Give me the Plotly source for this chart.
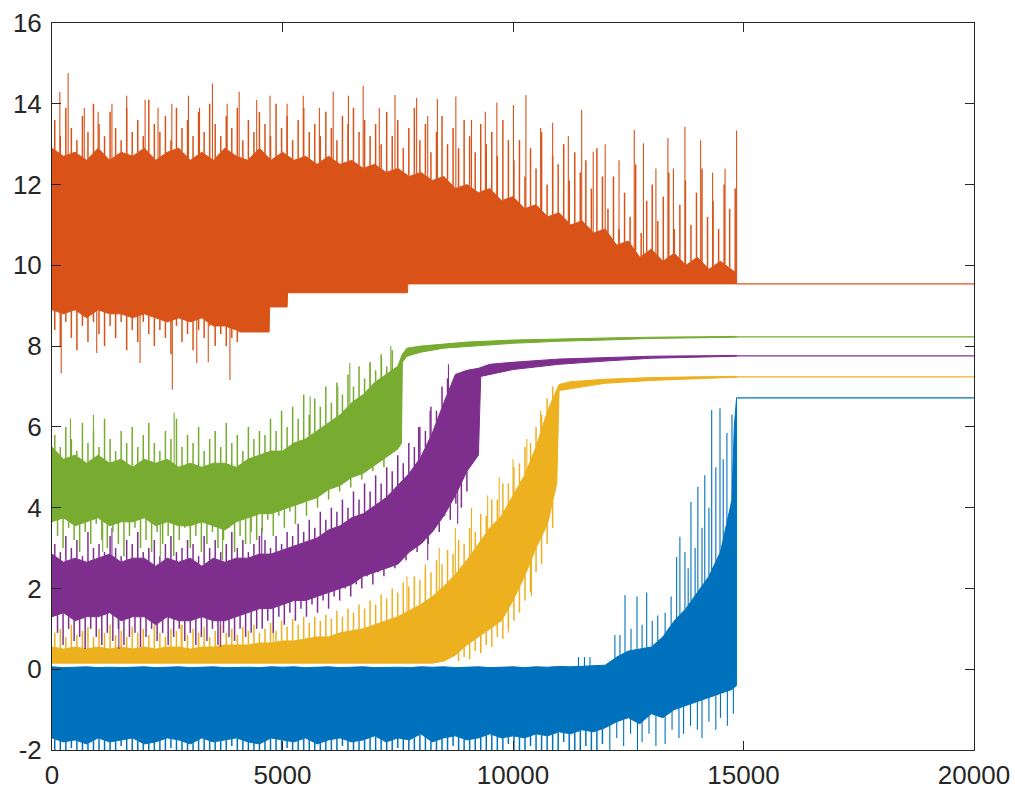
import numpy as np
import plotly.graph_objects as go

# ---------------- data ----------------
GRID = list(range(0, 14751, 250)) + [14850]          # sample positions of the band edges
TAIL_X = [14850, 20000]

# ---- Orange ----
or_top_x = GRID
or_top = [12.9, 12.7, 12.8, 12.6, 12.9, 12.6, 12.8, 12.7, 12.9, 12.6, 12.8, 12.9, 12.6, 12.8, 12.6,
          12.9, 12.7, 12.6, 12.9, 12.6, 12.8, 12.6, 12.7, 12.5, 12.7,
          12.5, 12.6, 12.4, 12.5, 12.3, 12.4, 12.2, 12.3,
          12.1, 12.2, 11.9, 12.0, 11.8, 11.9, 11.6, 11.7, 11.4,
          11.5, 11.2, 11.3, 11.0, 11.1, 10.8, 10.9,
          10.5, 10.6, 10.2, 10.4, 10.1, 10.3, 10.0, 10.2, 9.9, 10.1, 9.9, 9.8]
or_bot_x = [0, 250, 500, 750, 1000, 1250, 1500, 1750, 2000, 2250, 2500, 2750, 3000, 3250, 3500, 3750, 4000,
            4080, 4710, 4720, 5100, 5110, 7710, 7720, 14850]
or_bot = [8.9, 8.8, 8.9, 8.7, 8.9, 8.8, 8.8, 8.7, 8.8, 8.7, 8.6, 8.7, 8.6, 8.7, 8.5, 8.5, 8.4,
          8.35, 8.35, 8.97, 8.97, 9.32, 9.32, 9.54, 9.54]
# dense fringe above the orange core (every 120 from x=60)
or_fr_up_x = list(range(60, 14850, 120))
or_fr_up = [13.6, 13.2, 13.9, 13.4, 13.1, 13.7, 13.3, 14.0, 13.5, 13.2,
            13.8, 13.4, 13.1, 13.9, 13.3, 13.6, 13.2, 14.1, 13.5, 13.3,
            13.7, 13.1, 13.9, 13.4, 13.6, 13.2, 13.8, 13.3, 14.0, 13.5,
            13.2, 13.7, 13.4, 13.9, 13.1, 13.6, 13.3, 13.8, 13.5, 13.2,
            14.0, 13.4, 13.7, 13.1, 13.6, 13.9, 13.3, 13.5, 13.2, 13.8,
            13.4, 13.1, 13.7, 13.5, 13.9, 13.3, 13.6, 13.2,
            13.5, 13.0, 13.8, 13.2, 13.6, 12.9, 13.4, 13.9, 13.1, 13.5,
            12.8, 13.3, 13.7, 13.0, 13.4, 12.9, 13.6, 13.2, 12.8, 13.5,
            13.0, 13.3, 12.7, 13.6, 13.1,
            12.6, 13.1, 12.2, 12.9, 12.4, 13.3, 12.0, 12.7, 12.5, 13.0,
            12.1, 12.8, 12.3, 12.6, 11.9, 12.9, 12.2,
            11.4, 12.2, 10.9, 11.8, 11.2, 12.5, 10.8, 11.6, 12.0, 11.1,
            11.7, 12.3, 10.9, 11.5, 12.1, 11.0, 11.8, 12.4, 11.2, 11.6,
            10.9, 12.0, 11.4, 11.9]
or_fr_dn_x = list(range(60, 4080, 120))
or_fr_dn = [8.4, 8.0, 8.6, 8.2, 7.9, 8.5, 8.1, 8.6, 8.3, 8.0,
            8.5, 8.2, 8.6, 7.9, 8.4, 8.1, 8.6, 8.3, 8.0, 8.4,
            8.2, 7.8, 8.5, 8.1, 8.3, 7.9, 8.4, 8.2, 8.5, 8.0,
            8.3, 8.0, 8.2, 8.1]
or_up_x = [170, 350, 700, 1000, 1300, 1620, 2020, 2300, 2600, 2960, 3200, 3480, 3800, 4060, 4440, 4730,
           5100, 5450, 5800, 6100, 6430, 6750, 7100, 7440, 7910, 8150, 8360, 8760, 9100, 9400, 9650,
           10010, 10280, 10600, 10860, 11200, 11490, 11740, 12000, 12300, 12630, 12830,
           13100, 13360, 13480, 13730, 14070, 14330, 14600, 14850]
or_up_y = [14.3, 14.76, 13.9, 13.8, 14.0, 14.2, 14.1, 13.9, 14.0, 14.2, 13.9, 14.5, 14.0, 14.3, 14.1, 14.2,
           14.0, 14.2, 13.9, 14.3, 14.2, 14.44, 13.9, 14.22, 14.14, 13.7, 14.12, 14.18, 13.6, 13.8, 14.03,
           13.97, 14.22, 13.4, 13.53, 13.2, 13.85, 12.81, 13.0, 12.6, 13.35, 13.02,
           12.4, 13.15, 12.4, 13.43, 13.1, 12.3, 12.4, 13.34]
or_dn_x = [200, 970, 1910, 2610, 3140, 3390, 3860]
or_dn_y = [7.33, 7.83, 7.58, 6.92, 7.58, 7.6, 7.16]
or_tail = [9.54, 9.54]

# ---- Green ----
gr_top_x = list(range(0, 7501, 250)) + [7600, 7700, 8000, 8500, 9000, 10000, 11000, 12000, 13000, 14000, 14850]
gr_top = [5.5, 5.2, 5.3, 5.1, 5.3, 5.1, 5.2, 5.0, 5.2, 5.1, 5.2, 5.0, 5.1, 5.0, 5.1, 5.1, 5.0, 5.2, 5.3, 5.4,
          5.4, 5.6, 5.7, 5.9, 6.1, 6.3, 6.6, 6.8, 7.1, 7.3, 7.5,
          7.8, 7.95, 8.0, 8.05, 8.1, 8.15, 8.18, 8.2, 8.22, 8.23, 8.24]
gr_bot_x = list(range(0, 7501, 250)) + [7580, 7600, 7700, 8000, 8500, 9000, 10000, 11000, 12000, 13000, 14000, 14850]
gr_bot = [3.65, 3.75, 3.55, 3.65, 3.75, 3.55, 3.65, 3.65, 3.75, 3.55, 3.65, 3.55, 3.55, 3.65, 3.55, 3.45,
          3.65, 3.75, 3.85, 3.85, 3.95, 4.05, 4.15, 4.25, 4.45, 4.55, 4.75, 4.85, 5.05, 5.25, 5.45,
          5.6, 7.6, 7.75, 7.85, 7.95, 8.0, 8.07, 8.12, 8.15, 8.19, 8.21, 8.22]
gr_fr_up_x = list(range(60, 7500, 120))
gr_fr_up = [5.8, 5.5, 6.0, 5.7, 5.4, 6.1, 5.6, 5.9, 5.5, 6.2,
            5.7, 5.4, 5.9, 5.6, 6.0, 5.5, 5.8, 6.1, 5.6, 5.4,
            5.9, 5.7, 6.2, 5.5, 5.8, 5.6, 6.0, 5.4, 5.7, 5.9,
            5.5, 6.1, 5.6, 5.8, 5.4, 6.0, 5.7, 5.9,
            5.8, 6.2, 5.9, 6.4, 6.0, 6.5, 6.2, 6.8, 6.3, 6.7,
            6.5, 7.0, 6.6, 7.1, 6.8, 7.3, 7.0, 7.5, 7.2, 7.6,
            7.4, 7.8, 7.5, 7.9]
gr_fr_dn_x = list(range(120, 7400, 120))
gr_fr_dn = [3.3, 3.0, 3.5, 3.2, 2.9, 3.4, 3.1, 3.6, 3.2, 3.0,
            3.4, 3.1, 2.8, 3.3, 3.5, 3.0, 3.2, 2.9, 3.4, 3.1,
            3.3, 2.8, 3.2, 3.5, 3.0, 3.3, 2.9, 3.1, 3.4, 3.0,
            3.2, 3.5, 2.9, 3.3, 3.1, 3.4, 3.2,
            3.4, 3.7, 3.3, 3.8, 3.5, 3.9, 3.6, 4.1, 3.8, 4.3,
            4.0, 4.4, 4.2, 4.6, 4.4, 4.8, 4.5, 5.0, 4.7, 5.1,
            4.9, 5.3, 5.0, 5.4]
gr_up_x = [400, 900, 2650, 5600, 6200, 6460, 6900, 7150, 7350]
gr_up_y = [6.2, 6.3, 6.35, 6.75, 7.0, 7.58, 7.6, 7.73, 8.0]
gr_dn_x = [1100, 2350, 3700, 4300]
gr_dn_y = [2.9, 2.8, 2.7, 3.1]
gr_tail = [8.23, 8.23]

# ---- Purple ----
pu_top_x = list(range(0, 9251, 250)) + [9500, 10000, 11000, 12000, 13000, 14000, 14850]
pu_top = [2.85, 2.65, 2.75, 2.65, 2.75, 2.85, 2.65, 2.75, 2.75, 2.55,
          2.75, 2.65, 2.75, 2.55, 2.75, 2.65, 2.75, 2.75, 2.85, 2.85,
          2.95, 3.05, 3.15, 3.25, 3.45, 3.55, 3.75, 3.85, 4.05, 4.25,
          4.55, 4.85, 5.25, 5.85, 6.6, 7.3, 7.4, 7.45,
          7.55, 7.6, 7.68, 7.72, 7.75, 7.76, 7.77]
pu_bot_x = list(range(0, 9251, 250)) + [9300, 9500, 10000, 11000, 12000, 13000, 14000, 14850]
pu_bot = [1.3, 1.4, 1.2, 1.3, 1.3, 1.4, 1.2, 1.3, 1.3, 1.1,
          1.3, 1.2, 1.2, 1.3, 1.2, 1.2, 1.3, 1.4, 1.5, 1.5,
          1.6, 1.7, 1.7, 1.8, 1.9, 2.0, 2.1, 2.3, 2.4, 2.5,
          2.6, 2.9, 3.1, 3.4, 3.8, 4.3, 4.9, 5.3,
          7.25, 7.3, 7.42, 7.55, 7.63, 7.7, 7.73, 7.75]
pu_fr_up_x = list(range(60, 8700, 120))
pu_fr_up = [3.1, 2.9, 3.3, 3.0, 3.2, 2.8, 3.4, 3.0, 3.1, 2.9,
            3.3, 3.0, 2.8, 3.2, 3.1, 3.4, 2.9, 3.0, 3.2, 2.8,
            3.1, 3.3, 2.9, 3.0, 3.2, 3.1, 2.8, 3.3, 3.0, 3.2,
            2.9, 3.1, 3.4, 3.0, 3.2, 2.9, 3.1, 3.3,
            3.2, 3.0, 3.3, 3.1, 3.4, 3.3, 3.6, 3.4, 3.7, 3.5,
            3.9, 3.7, 4.0, 3.9, 4.2, 4.0, 4.4, 4.2, 4.6, 4.4,
            4.8, 4.6, 5.0, 4.9, 5.3, 5.1, 5.6, 5.5, 6.0, 5.9,
            6.5, 6.4, 7.0, 7.2]
pu_fr_dn_x = list(range(120, 9100, 120))
pu_fr_dn = [0.9, 0.6, 1.0, 0.7, 0.8, 0.5, 1.0, 0.8, 0.6, 0.9,
            0.7, 1.0, 0.6, 0.8, 0.9, 0.55, 0.8, 1.0, 0.7, 0.9,
            0.6, 0.8, 1.0, 0.7, 0.9, 0.6, 0.8, 0.7, 1.0, 0.6,
            0.9, 0.8, 0.7, 1.0, 0.8, 0.9, 1.0,
            1.0, 1.2, 0.9, 1.3, 1.1, 1.4, 1.2, 1.5, 1.3, 1.6,
            1.4, 1.7, 1.5, 1.8, 1.7, 2.0, 1.8, 2.1, 2.0, 2.3,
            2.1, 2.4, 2.3, 2.6, 2.5, 2.8, 2.7, 3.0, 2.9, 3.2,
            3.1, 3.5, 3.4, 3.8, 3.7, 4.1, 4.0, 4.4]
pu_up_x = [1300, 4550, 7950, 8200, 8600]
pu_up_y = [3.5, 3.5, 6.0, 6.4, 7.55]
pu_dn_x = [1450, 3650, 8150, 8800]
pu_dn_y = [0.5, 0.55, 2.7, 3.6]
pu_tail = [7.76, 7.76]

# ---- Yellow ----
ye_top_x = list(range(0, 11001, 250)) + [11250, 12000, 13000, 14000, 14850]
ye_top = [0.55, 0.5, 0.55, 0.5, 0.55, 0.5, 0.55, 0.5, 0.55, 0.5,
          0.55, 0.55, 0.5, 0.55, 0.55, 0.6, 0.6, 0.6, 0.65, 0.65,
          0.7, 0.7, 0.75, 0.8, 0.8, 0.9, 0.95, 1.0, 1.1, 1.2,
          1.3, 1.45, 1.6, 1.8, 2.05, 2.35, 2.7, 3.1, 3.5, 3.8,
          4.3, 4.8, 5.5, 6.4, 7.05,
          7.12, 7.18, 7.22, 7.24, 7.25]
ye_bot_x = list(range(0, 10751, 250)) + [10950, 11000, 11250, 12000, 13000, 14000, 14850]
ye_bot = [0.15, 0.15, 0.15, 0.15, 0.15, 0.15, 0.15, 0.15, 0.15, 0.15,
          0.15, 0.15, 0.15, 0.15, 0.15, 0.15, 0.15, 0.15, 0.15, 0.15,
          0.15, 0.15, 0.15, 0.15, 0.15, 0.15, 0.15, 0.15, 0.15, 0.15,
          0.15, 0.15, 0.15, 0.15,
          0.2, 0.35, 0.6, 0.8, 1.0, 1.2, 1.7, 2.3, 3.0, 3.6,
          4.6, 6.9, 6.95, 7.08, 7.15, 7.2, 7.23]
ye_fr_up_x = list(range(60, 10900, 120))
ye_fr_up = [0.9, 1.0, 0.8, 1.1, 0.85, 0.95, 1.05, 0.8, 1.0, 0.9,
            1.1, 0.85, 0.95, 0.8, 1.05, 0.9, 1.0, 0.85, 1.1, 0.9,
            0.8, 1.0, 0.95, 1.1, 0.85, 1.0, 0.9, 1.05, 0.8, 0.95,
            1.1, 0.9, 1.0, 0.85, 1.05, 0.95, 1.1, 0.9,
            1.0, 1.15, 0.95, 1.2, 1.05, 1.25, 1.1, 1.3, 1.15, 1.3,
            1.2, 1.35, 1.25, 1.45, 1.3, 1.5, 1.4, 1.6, 1.5, 1.7,
            1.6, 1.85, 1.75, 2.0, 1.9, 2.15, 2.05, 2.3, 2.2, 2.5,
            2.4, 2.7, 2.6, 2.95, 2.85, 3.2, 3.1, 3.5, 3.4, 3.85,
            3.8, 4.2, 4.2, 4.6, 4.6, 5.0, 5.1, 5.5, 5.6, 6.0,
            6.3, 6.7, 7.0]
ye_fr_dn_x = list(range(8820, 10900, 120))
ye_fr_dn = [0.2, 0.3, 0.25, 0.45, 0.4, 0.6, 0.55, 0.8, 0.75, 1.0,
            1.2, 1.4, 1.7, 1.9, 2.4, 2.6, 3.1, 3.5]
ye_up_x = [2800, 4800, 7700, 8100, 8400, 8750, 9100, 9450, 9700, 10000, 10300, 10600]
ye_up_y = [1.1, 1.2, 2.3, 2.6, 3.0, 3.5, 4.0, 4.3, 4.76, 5.2, 5.7, 6.4]
ye_dn_x = [9300, 9900, 10400]
ye_dn_y = [0.4, 0.9, 1.8]
ye_tail = [7.24, 7.24]

# ---- Blue ----
bl_top_x = list(range(0, 14751, 250)) + [14800, 14850]
bl_top = [0.06, 0.04, 0.05, 0.06, 0.04, 0.05, 0.04, 0.05, 0.06, 0.04,
          0.05, 0.06, 0.04, 0.05, 0.06, 0.04, 0.05, 0.05, 0.04, 0.06,
          0.05, 0.06, 0.04, 0.05, 0.06, 0.04, 0.05, 0.06, 0.04, 0.05,
          0.05, 0.04, 0.06, 0.05, 0.06, 0.04, 0.05, 0.06, 0.04, 0.05,
          0.06, 0.04, 0.06, 0.05, 0.07, 0.06, 0.07, 0.08, 0.1,
          0.3, 0.45, 0.5, 0.55, 0.8, 1.2, 1.5, 1.9, 2.3, 2.9, 4.2,
          6.0, 6.72]
bl_bot_x = list(range(0, 14751, 250)) + [14850]
bl_bot = [-1.7, -1.8, -1.75, -1.85, -1.7, -1.8, -1.75, -1.7, -1.85, -1.8,
          -1.7, -1.75, -1.85, -1.7, -1.8, -1.75, -1.7, -1.8, -1.85, -1.7,
          -1.75, -1.8, -1.7, -1.85, -1.75, -1.7, -1.8, -1.75, -1.65, -1.8,
          -1.7, -1.75, -1.6, -1.8, -1.7, -1.65, -1.75, -1.7, -1.6, -1.7,
          -1.65, -1.7, -1.6, -1.65, -1.55, -1.6, -1.5, -1.55, -1.45,
          -1.3, -1.2, -1.35, -1.1, -1.2, -1.0, -0.9, -0.8, -0.7, -0.6, -0.5,
          -0.4]
bl_fr_dn_x = list(range(60, 12000, 120))
bl_fr_dn = [-2.3, -2.1, -2.4, -1.95, -2.3, -2.2, -2.4, -2.0, -2.3, -2.1,
            -2.4, -2.2, -1.9, -2.3, -2.4, -2.1, -2.3, -2.0, -2.4, -2.2,
            -2.3, -1.95, -2.4, -2.1, -2.3, -2.2, -2.4, -2.0, -2.3, -2.1,
            -2.2, -2.4, -1.9, -2.3, -2.1, -2.4, -2.2, -2.0, -2.3, -2.4,
            -2.1, -2.3, -1.95, -2.4, -2.2, -2.3, -2.0, -2.4, -2.1, -2.3,
            -2.2, -2.4, -1.9, -2.3, -2.1, -2.4, -2.2, -2.0, -2.3, -2.4,
            -2.1, -2.3, -1.95, -2.4, -2.2, -2.3, -2.0, -2.4, -2.1, -2.3,
            -2.2, -2.4, -1.9, -2.3, -2.1, -2.4, -2.2, -2.0, -2.3, -2.4,
            -2.1, -2.3, -1.85, -2.4, -2.2, -2.3, -1.9, -2.4, -2.1, -2.3,
            -2.2, -2.0, -1.8, -2.3, -2.1, -2.4, -1.9, -2.0, -2.3, -1.85]
bl_up_x = [11420, 11550, 11670, 12210, 12320, 12430, 12560, 12690, 12800, 12900, 13020, 13140, 13300,
           13430, 13550, 13620, 13730, 13800, 13860, 13950, 14010, 14100, 14160, 14250, 14310, 14400,
           14490, 14560, 14640, 14750]
bl_up_y = [0.3, 0.3, 0.3, 0.85, 0.85, 1.84, 1.0, 1.8, 1.1, 1.9, 1.2, 1.33, 1.4,
           1.8, 2.78, 3.28, 2.9, 2.5, 4.14, 3.0, 4.52, 3.5, 4.8, 4.0, 6.42, 5.0,
           6.46, 5.2, 5.85, 6.3]
bl_dn_x = [12100, 12250, 12400, 12550, 12700, 12800, 12950, 13100, 13300, 13450, 13600, 13700, 13850,
           14000, 14100, 14250, 14400, 14500, 14650, 14780]
bl_dn_y = [-2.0, -1.7, -1.9, -1.6, -2.0, -1.8, -1.6, -1.9, -1.85, -1.5, -1.7, -1.6, -1.4,
           -1.5, -1.7, -1.3, -1.5, -1.2, -1.4, -1.1]
bl_tail = [6.72, 6.72]

X_TICKS = [0, 5000, 10000, 15000, 20000]
X_LABELS = ["0", "5000", "10000", "15000", "20000"]
Y_TICKS = [-2, 0, 2, 4, 6, 8, 10, 12, 14, 16]
Y_LABELS = ["-2", "0", "2", "4", "6", "8", "10", "12", "14", "16"]

C_BLUE = "#0072BD"
C_ORANGE = "#D95319"
C_YELLOW = "#EDB120"
C_PURPLE = "#7E2F8E"
C_GREEN = "#77AC30"

# ---------------- drawing ----------------
fig = go.Figure()


def seg_trace(color, width, pairs, edge_x, edge_y):
    sx, sy = [], []
    for xs, ys in pairs:
        for x, y in zip(xs, ys):
            b = float(np.interp(x, edge_x, edge_y))
            sx += [x, x, None]
            sy += [b, y, None]
    fig.add_trace(go.Scatter(x=sx, y=sy, mode="lines", line=dict(color=color, width=width),
                             hoverinfo="skip", showlegend=False))


def add_series(color, top_x, top, bot_x, bot, fr_up, fr_dn, up, dn, tail):
    px = list(top_x) + list(bot_x)[::-1]
    py = list(top) + list(bot)[::-1]
    fig.add_trace(go.Scatter(x=px, y=py, mode="lines", fill="toself", fillcolor=color,
                             line=dict(color=color, width=1), hoverinfo="skip", showlegend=False))
    seg_trace(color, 1.5, fr_up, top_x, top)
    seg_trace(color, 1.5, fr_dn, bot_x, bot)
    seg_trace(color, 1.1, [up], top_x, top)
    seg_trace(color, 1.1, [dn], bot_x, bot)
    fig.add_trace(go.Scatter(x=TAIL_X, y=tail, mode="lines", line=dict(color=color, width=1.2),
                             hoverinfo="skip", showlegend=False))


add_series(C_BLUE, bl_top_x, bl_top, bl_bot_x, bl_bot,
           [], [(bl_fr_dn_x, bl_fr_dn)], (bl_up_x, bl_up_y), (bl_dn_x, bl_dn_y), bl_tail)
add_series(C_ORANGE, or_top_x, or_top, or_bot_x, or_bot,
           [(or_fr_up_x, or_fr_up)], [(or_fr_dn_x, or_fr_dn)], (or_up_x, or_up_y), (or_dn_x, or_dn_y), or_tail)
add_series(C_YELLOW, ye_top_x, ye_top, ye_bot_x, ye_bot,
           [(ye_fr_up_x, ye_fr_up)], [(ye_fr_dn_x, ye_fr_dn)], (ye_up_x, ye_up_y), (ye_dn_x, ye_dn_y), ye_tail)
add_series(C_PURPLE, pu_top_x, pu_top, pu_bot_x, pu_bot,
           [(pu_fr_up_x, pu_fr_up)], [(pu_fr_dn_x, pu_fr_dn)], (pu_up_x, pu_up_y), (pu_dn_x, pu_dn_y), pu_tail)
add_series(C_GREEN, gr_top_x, gr_top, gr_bot_x, gr_bot,
           [(gr_fr_up_x, gr_fr_up)], [(gr_fr_dn_x, gr_fr_dn)], (gr_up_x, gr_up_y), (gr_dn_x, gr_dn_y), gr_tail)

AX = "#262626"
FONT = dict(family="Liberation Sans, Arial, sans-serif", size=26, color=AX)
axis_common = dict(showgrid=False, zeroline=False, showline=True, linecolor=AX, linewidth=1,
                   mirror="ticks", ticks="inside", ticklen=9, tickwidth=1, tickcolor=AX,
                   tickfont=FONT, automargin=False)

fig.update_layout(
    width=1015, height=792,
    margin=dict(l=52, r=41, t=23, b=42),
    paper_bgcolor="white", plot_bgcolor="white",
    showlegend=False,
    xaxis=dict(range=[0, 20000], tickvals=X_TICKS, ticktext=X_LABELS, ticklabelstandoff=2, **axis_common),
    yaxis=dict(range=[-2, 16], tickvals=Y_TICKS, ticktext=Y_LABELS, ticklabelstandoff=4, **axis_common),
)

# the page's default 8px body margin would shift the figure; remove it
fig.write_html("out.html", config={"displayModeBar": False},
               post_script="document.body.style.margin='0';document.body.style.overflow='hidden';")
